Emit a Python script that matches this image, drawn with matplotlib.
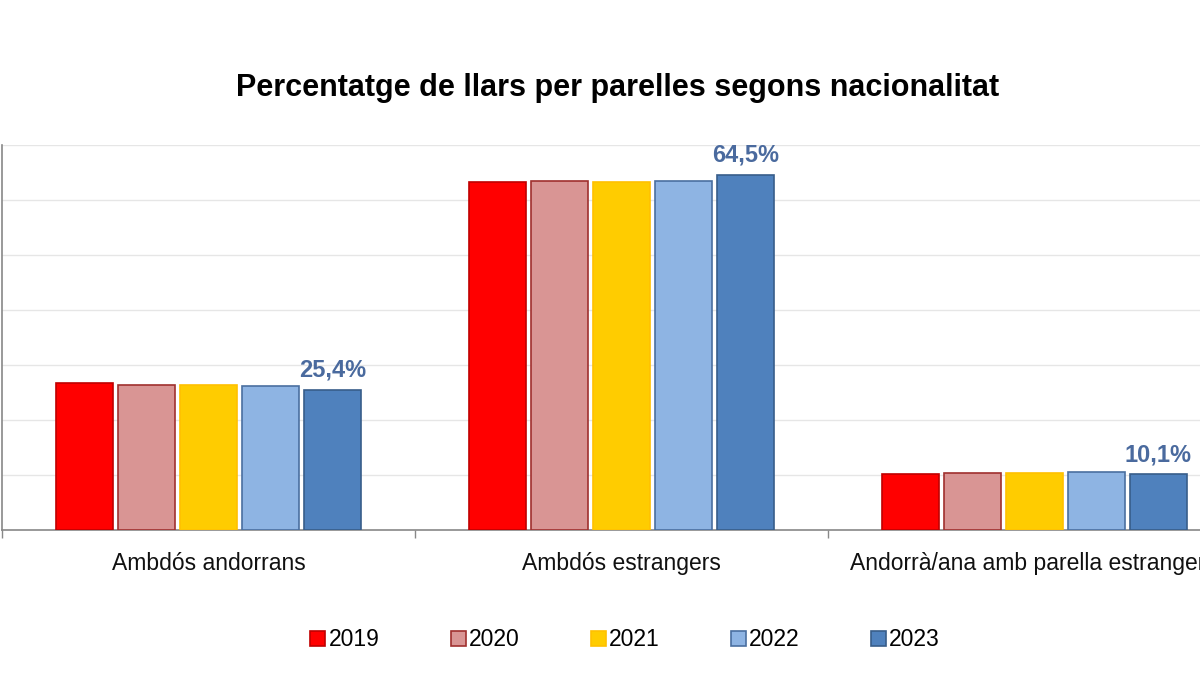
import matplotlib.pyplot as plt
import numpy as np

plt.rcParams['font.family'] = ['Liberation Sans', 'DejaVu Sans']

# === Data ===
categories = ['Ambdós andorrans', 'Ambdós estrangers', 'Andorrà/ana amb parella estrangera']
years = ['2019', '2020', '2021', '2022', '2023']
values = {
    '2019': [26.7, 63.2, 10.1],
    '2020': [26.3, 63.4, 10.4],
    '2021': [26.4, 63.2, 10.4],
    '2022': [26.1, 63.4, 10.5],
    '2023': [25.4, 64.5, 10.1],
}

face_colors = ['#FF0000', '#D99594', '#FFCC00', '#8EB4E3', '#4F81BD']
edge_colors = ['#C00000', '#A0302E', '#FFC000', '#4A6FA0', '#385D8A']

# === Plotting ===
fig = plt.figure(figsize=(12, 6.75), dpi=100)
ax = fig.add_axes([2 / 1200, 145 / 675, 1239 / 1200, 385 / 675])

x = np.arange(len(categories))
pitch = 0.15
width = 0.138
containers = []
for i, year in enumerate(years):
    offs = (i - 2) * pitch
    bc = ax.bar(x + offs, values[year], width, color=face_colors[i],
                edgecolor=edge_colors[i], linewidth=1.2, label=year, zorder=3)
    containers.append(bc)

# Data labels only on the last year
last = values['2023']
ax.bar_label(containers[-1], labels=[f"{v:.1f}%".replace('.', ',') for v in last],
             padding=6, fontsize=17, fontweight='bold', color='#4A6A9E')

ax.set_ylim(0, 70)
ax.set_xlim(-0.5, 2.5)
ax.set_yticks(np.arange(0, 71, 10))
ax.set_yticklabels([])
ax.tick_params(axis='y', length=0)
ax.grid(axis='y', color='#E6E6E6', linewidth=1, zorder=0)

# Boundary ticks and category labels
ax.set_xticks([-0.5, 0.5, 1.5, 2.5])
ax.set_xticklabels([])
ax.tick_params(axis='x', which='major', direction='out', length=6, color='#888888', width=1)
ax.set_xticks(x, minor=True)
ax.set_xticklabels(categories, minor=True, fontsize=16.5, color='#111111')
ax.tick_params(axis='x', which='minor', length=0, pad=16)

for side in ['top', 'right']:
    ax.spines[side].set_visible(False)
for side in ['left', 'bottom']:
    ax.spines[side].set_color('#888888')
    ax.spines[side].set_linewidth(1.2)

fig.text(0.515, 0.870, 'Percentatge de llars per parelles segons nacionalitat',
         ha='center', va='center', fontsize=22, fontweight='bold')

fig.legend(handles=containers, labels=years, loc='center', bbox_to_anchor=(0.521, 0.052),
           ncol=5, frameon=False, fontsize=16.5, handlelength=0.65, handleheight=0.65,
           handletextpad=0.15, columnspacing=3.1)

plt.savefig('out.png', dpi=100)
